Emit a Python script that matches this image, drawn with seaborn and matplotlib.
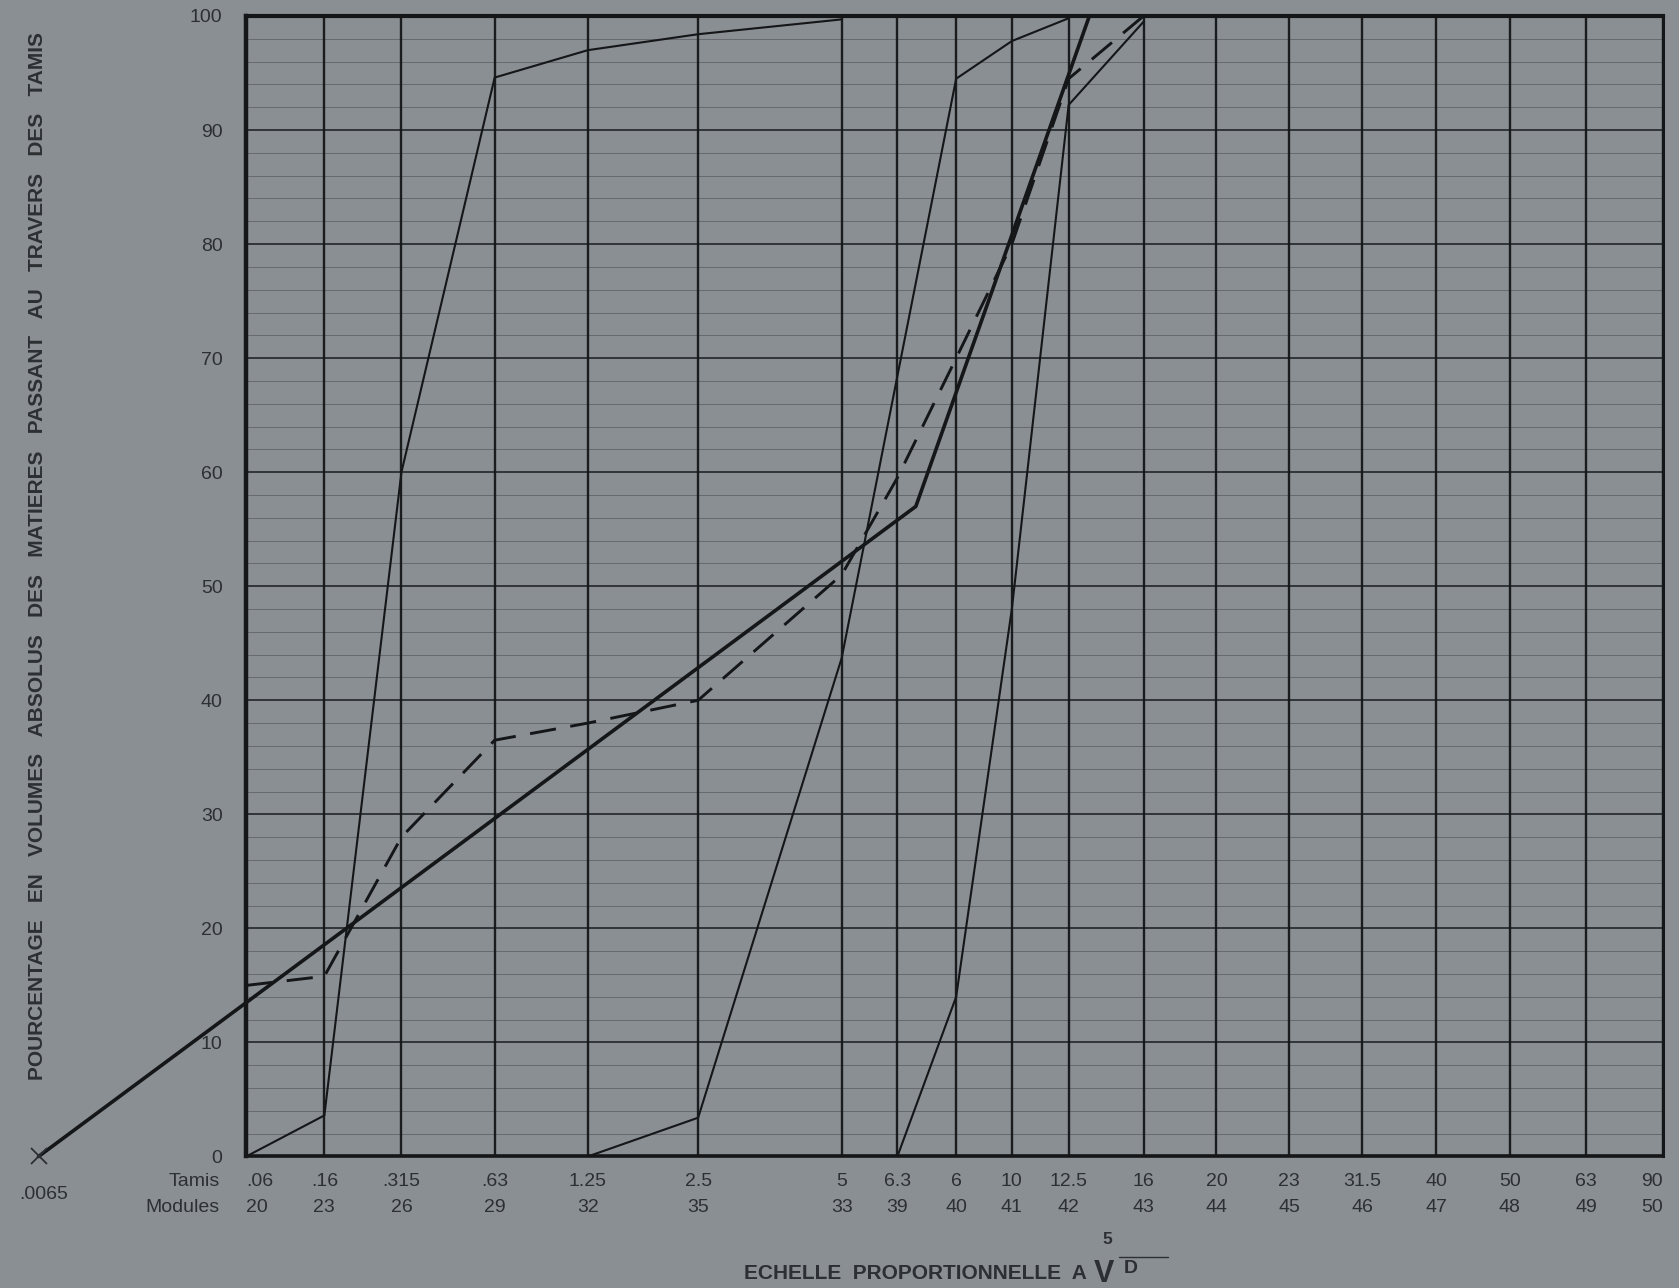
import numpy as np
import pandas as pd
import matplotlib
matplotlib.use("Agg")
import matplotlib.pyplot as plt
from matplotlib.lines import Line2D
from matplotlib.transforms import offset_copy
import seaborn as sns

# sieve openings (mm) and what is printed under each ruled line
sieves = [0.08, 0.16, 0.315, 0.63, 1.25, 2.5, 5, 6.3, 8, 10, 12.5, 16,
          20, 25, 31.5, 40, 50, 63, 80]
tamis_labels = [".06", ".16", ".315", ".63", "1.25", "2.5", "5", "6.3", "6",
                "10", "12.5", "16", "20", "23", "31.5", "40", "50", "63", "90"]
module_labels = ["20", "23", "26", "29", "32", "35", "33", "39", "40", "41",
                 "42", "43", "44", "45", "46", "47", "48", "49", "50"]
# abscissa of the ruled lines on the printed sheet (0 = first, 100 = last)
ruling = [0, 5.52, 10.96, 17.54, 24.11, 31.90, 42.03, 45.96, 50.11, 54.04,
          58.05, 63.34, 68.48, 73.62, 78.76, 83.98, 89.19, 94.56, 100]

# grading curves: sieve (mm) / % passing
sand_d = [0.08, 0.16, 0.315, 0.63, 1.25, 2.5, 5]
sand_pct = [0, 3.6, 60, 94.6, 97.0, 98.4, 99.7]

grav1_d = [1.25, 2.5, 5, 8, 10, 12.5]
grav1_pct = [0, 3.4, 43.7, 94.5, 97.8, 99.8]

grav2_d = [6.3, 8, 10, 12.5, 16]
grav2_pct = [0, 14, 48, 92.2, 99.5]

mix_d = [0.08, 0.16, 0.315, 0.63, 1.25, 2.5, 5, 6.3, 8, 10, 12.5, 16]
mix_pct = [15, 15.8, 28, 36.5, 38, 40, 51, 59.5, 70, 80, 94.5, 100]

ref_d = [0.0065, 6.8, 13.4]
ref_pct = [0, 57, 100]

# scale proportional to the fifth root of D, following the sheet's ruling
_u = np.asarray(sieves) ** 0.2
_g = np.asarray(ruling, dtype=float)
_s0 = (_g[1] - _g[0]) / (_u[1] - _u[0])
_s1 = (_g[-1] - _g[-2]) / (_u[-1] - _u[-2])


def to_sheet(d):
    u = np.power(np.clip(np.asarray(d, dtype=float), 1e-12, None), 0.2)
    out = np.interp(u, _u, _g)
    out = np.where(u < _u[0], _g[0] + (u - _u[0]) * _s0, out)
    out = np.where(u > _u[-1], _g[-1] + (u - _u[-1]) * _s1, out)
    return out


def from_sheet(x):
    x = np.asarray(x, dtype=float)
    u = np.interp(x, _g, _u)
    u = np.where(x < _g[0], _u[0] + (x - _g[0]) / _s0, u)
    u = np.where(x > _g[-1], _u[-1] + (x - _g[-1]) / _s1, u)
    return np.power(np.clip(u, 1e-12, None), 5)


bg = "#8a8f94"
ink = "#141618"
txt = "#2c3033"

sns.set_theme(style="white")
plt.rcParams["font.family"] = ["Liberation Sans", "DejaVu Sans"]

fig = plt.figure(figsize=(16.79, 12.88), dpi=100, facecolor=bg)
ax = fig.add_axes([0.1466, 0.1021, 0.8439, 0.8855])
ax.set_facecolor(bg)
ax.set_xscale("function", functions=(to_sheet, from_sheet))
ax.set_xlim(sieves[0], sieves[-1])
ax.set_ylim(0, 100)

# ruled paper
for v in range(2, 100, 2):
    major = v % 10 == 0
    ax.axhline(v, color=ink, lw=1.3 if major else 0.6,
               alpha=0.8 if major else 0.35, zorder=1)
for d in sieves:
    ax.axvline(d, color=ink, lw=1.7, alpha=0.95, zorder=1)

for side in ["left", "right", "top", "bottom"]:
    ax.spines[side].set_color(ink)
ax.spines["left"].set_linewidth(3.2)
ax.spines["top"].set_linewidth(3.0)
ax.spines["bottom"].set_linewidth(2.6)
ax.spines["right"].set_linewidth(2.2)

frames = []
for name, d, p in [("sand", sand_d, sand_pct), ("grav1", grav1_d, grav1_pct),
                   ("grav2", grav2_d, grav2_pct)]:
    frames.append(pd.DataFrame({"curve": name, "D": d, "pct": p}))
thin = pd.concat(frames, ignore_index=True)
sns.lineplot(data=thin, x="D", y="pct", units="curve", estimator=None,
             sort=False, color=ink, lw=1.5, ax=ax, zorder=3)

mix = pd.DataFrame({"D": mix_d, "pct": mix_pct})
sns.lineplot(data=mix, x="D", y="pct", sort=False, color=ink, lw=2.1,
             ax=ax, zorder=3)
ax.lines[-1].set_dashes([9, 5])

ref = pd.DataFrame({"D": ref_d, "pct": ref_pct})
sns.lineplot(data=ref, x="D", y="pct", sort=False, color=ink, lw=2.6,
             ax=ax, zorder=4)
ax.lines[-1].set_clip_on(False)
ax.plot(ref_d[:1], ref_pct[:1], marker="x", ms=11, mew=1.3, color=txt,
        clip_on=False, zorder=4)

ax.set_xlabel("")
ax.set_ylabel("")
ax.set_xticks(sieves)
ax.set_xticklabels([])
ax.minorticks_off()
ax.set_yticks(range(0, 101, 10))
ax.set_yticklabels([str(v) for v in range(0, 101, 10)], fontsize=14, color=txt)
ax.tick_params(axis="both", length=0)
ax.tick_params(axis="y", pad=17)

xt = ax.get_xaxis_transform()
for i, d in enumerate(sieves):
    ha = "left" if i == 0 else ("right" if i == len(sieves) - 1 else "center")
    ax.text(d, -0.0215, tamis_labels[i], transform=xt, ha=ha, va="center",
            fontsize=14, color=txt)
    ax.text(d, -0.045, module_labels[i], transform=xt, ha=ha, va="center",
            fontsize=14, color=txt)
ax.text(-0.0187, -0.0215, "Tamis", transform=ax.transAxes, ha="right",
        va="center", fontsize=14, color=txt)
ax.text(-0.0187, -0.045, "Modules", transform=ax.transAxes, ha="right",
        va="center", fontsize=14, color=txt)
ax.text(ref_d[0], -0.0335, ".0065",
        transform=offset_copy(xt, fig=fig, x=4, units="points"),
        ha="center", va="center", fontsize=14, color=txt)

fig.text(0.0225, 0.568,
         "POURCENTAGE   EN   VOLUMES   ABSOLUS   DES   MATIERES   PASSANT   AU   TRAVERS   DES   TAMIS",
         rotation=90, ha="center", va="center", fontsize=15,
         fontweight="bold", color=txt)

fig.text(0.6474, 0.0116, "ECHELLE  PROPORTIONNELLE  A", ha="right",
         va="center", fontsize=15, fontweight="bold", color=txt)
fig.text(0.6575, 0.0105, "V", ha="center", va="center", fontsize=22,
         fontweight="bold", color=txt)
fig.text(0.6736, 0.0152, "D", ha="center", va="center", fontsize=14,
         fontweight="bold", color=txt)
fig.text(0.6593, 0.038, "5", ha="center", va="center", fontsize=12.5,
         fontweight="bold", color=txt)
fig.add_artist(Line2D([0.6665, 0.6957], [0.0238, 0.0238], color=txt, lw=1.0,
                      transform=fig.transFigure))

fig.savefig("out.png", dpi=100, facecolor=bg)
